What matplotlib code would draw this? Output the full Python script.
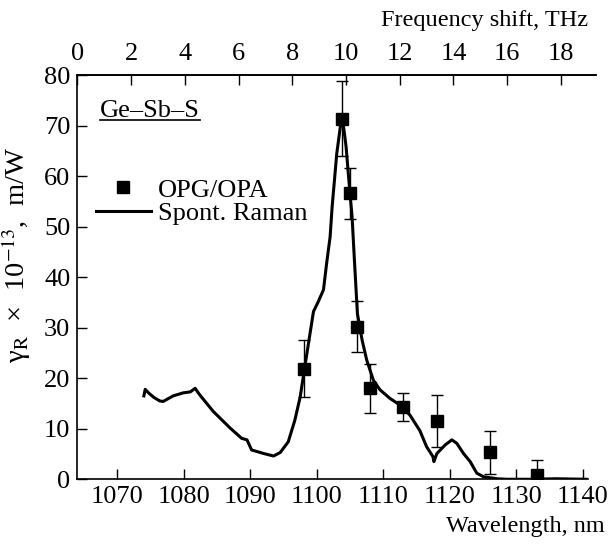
# Raman gain of Ge-Sb-S glass: OPG/OPA points against spontaneous Raman curve
import matplotlib
matplotlib.use('Agg')
import numpy as np
import matplotlib.pyplot as plt
from matplotlib.lines import Line2D

plt.rcParams['font.family'] = ['Liberation Serif', 'DejaVu Serif']
plt.rcParams['mathtext.fontset'] = 'stix'

# OPG/OPA measurements
opg_wl = [1098.0, 1103.8, 1105.0, 1106.0, 1108.0, 1113.0, 1118.05, 1126.05, 1133.1]
opg_val = [21.9, 71.4, 56.6, 30.2, 18.0, 14.3, 11.5, 5.3, 0.9]
opg_err = [5.7, 7.5, 5.0, 5.1, 4.8, 2.8, 5.1, 4.3, 2.9]

# spontaneous Raman spectrum (scaled)
raman_wl = [1074.0, 1074.2, 1074.7, 1075.5, 1076.4, 1076.9, 1078.4, 1079.9, 1081.0,
            1081.7, 1082.4, 1084.45, 1087.0, 1088.7, 1089.5, 1090.2, 1092.0, 1093.5,
            1094.5, 1095.7, 1096.7, 1097.5, 1098.2, 1098.9, 1099.5, 1100.2, 1101.0,
            1101.5, 1102.0, 1102.3, 1103.0, 1103.6, 1103.9, 1104.4, 1104.9, 1105.3,
            1105.65, 1106.1, 1106.8, 1107.5, 1108.5, 1109.5, 1111.0, 1112.5, 1114.0,
            1115.5, 1116.5, 1117.45, 1117.6, 1118.05, 1119.3, 1120.3, 1121.05, 1122.05,
            1123.05, 1124.05, 1125.05, 1127.1, 1128.6, 1132.0, 1136.0, 1140.5]
raman_val = [16.5, 17.8, 17.1, 16.2, 15.5, 15.4, 16.5, 17.1, 17.3,
             18.0, 16.7, 13.4, 10.1, 8.1, 7.8, 5.8, 5.1, 4.6,
             5.3, 7.4, 11.7, 16.3, 22.3, 28.2, 33.2, 35.1, 37.5,
             43.0, 48.0, 53.9, 64.5, 70.4, 71.0, 65.8, 57.9, 52.0,
             43.4, 32.8, 27.6, 23.6, 19.6, 17.7, 16.0, 14.7, 12.7,
             9.6, 6.45, 4.5, 3.5, 5.1, 6.8, 7.8, 7.1, 5.1,
             3.5, 1.2, 0.5, 0.1, 0.0, 0.0, 0.1, 0.0]

wl_ticks = [1070, 1080, 1090, 1100, 1110, 1120, 1130, 1140]
thz_ticks = [0, 2, 4, 6, 8, 10, 12, 14, 16, 18]
y_ticks = [0, 10, 20, 30, 40, 50, 60, 70, 80]

PUMP = 1064.0
NM_PER_THZ = 4.039  # linear top scale as drawn in the figure

fs = 17.5
fs_tick = 19
fig = plt.figure(figsize=(6.09, 5.44), dpi=100)
ax = fig.add_axes([0.127, 0.119, 0.852, 0.743])

ax.plot(raman_wl, raman_val, color='black', lw=2.2, zorder=2)
ax.errorbar(opg_wl, opg_val, yerr=opg_err, fmt='s', color='black', ms=8.5,
            ecolor='black', elinewidth=1.0, capsize=4, capthick=1.0, zorder=3)

ax.set_xlim(1064, 1142)
ax.set_ylim(0, 80)
ax.set_xticks(wl_ticks)
ax.set_yticks(y_ticks)
ax.spines['right'].set_visible(False)
ax.spines['bottom'].set_bounds(1064, 1140.8)
for s in ax.spines.values():
    s.set_linewidth(1.2)
ax.tick_params(direction='in', length=7, width=1.0, labelsize=fs_tick, pad=5)
ax.tick_params(axis='x', pad=5)

sec = ax.secondary_xaxis('top', functions=(lambda l: (l - PUMP) / NM_PER_THZ,
                                           lambda f: PUMP + f * NM_PER_THZ))
sec.set_xticks(thz_ticks)
sec.tick_params(direction='in', length=7, width=1.0, labelsize=fs_tick, pad=7)
sec.spines['top'].set_linewidth(1.2)

ax.set_xlabel('Wavelength, nm', fontsize=fs, ha='right')
ax.xaxis.set_label_coords(1.017, -0.09)
ax.text(0.984, 1.122, 'Frequency shift, THz', transform=ax.transAxes,
        fontsize=fs, ha='right', va='baseline')
ax.set_ylabel(r'γ$_\mathrm{R}$  ×  10$^{-13}$,  m/W', fontsize=20.5)
ax.yaxis.set_label_coords(-0.085, 0.555)

# sample name, underlined
t = ax.text(0.044, 0.897, 'Ge–Sb–S', transform=ax.transAxes, fontsize=fs_tick,
            ha='left', va='baseline')
fig.canvas.draw()
bb = t.get_window_extent().transformed(ax.transAxes.inverted())
ax.plot([bb.x0, bb.x1], [bb.y0 + 0.004, bb.y0 + 0.004], color='black', lw=1.2,
        transform=ax.transAxes, clip_on=False)

handles = [Line2D([], [], marker='s', ls='none', color='black', ms=8.5),
           Line2D([], [], color='black', lw=2.2)]
ax.legend(handles, ['OPG/OPA', 'Spont. Raman'], loc='upper left',
          bbox_to_anchor=(0.035, 0.745), frameon=False, fontsize=fs_tick,
          handlelength=2.1, handletextpad=0.25, labelspacing=0.0,
          borderaxespad=0.0, borderpad=0.0)

fig.savefig('out.png', dpi=100)
